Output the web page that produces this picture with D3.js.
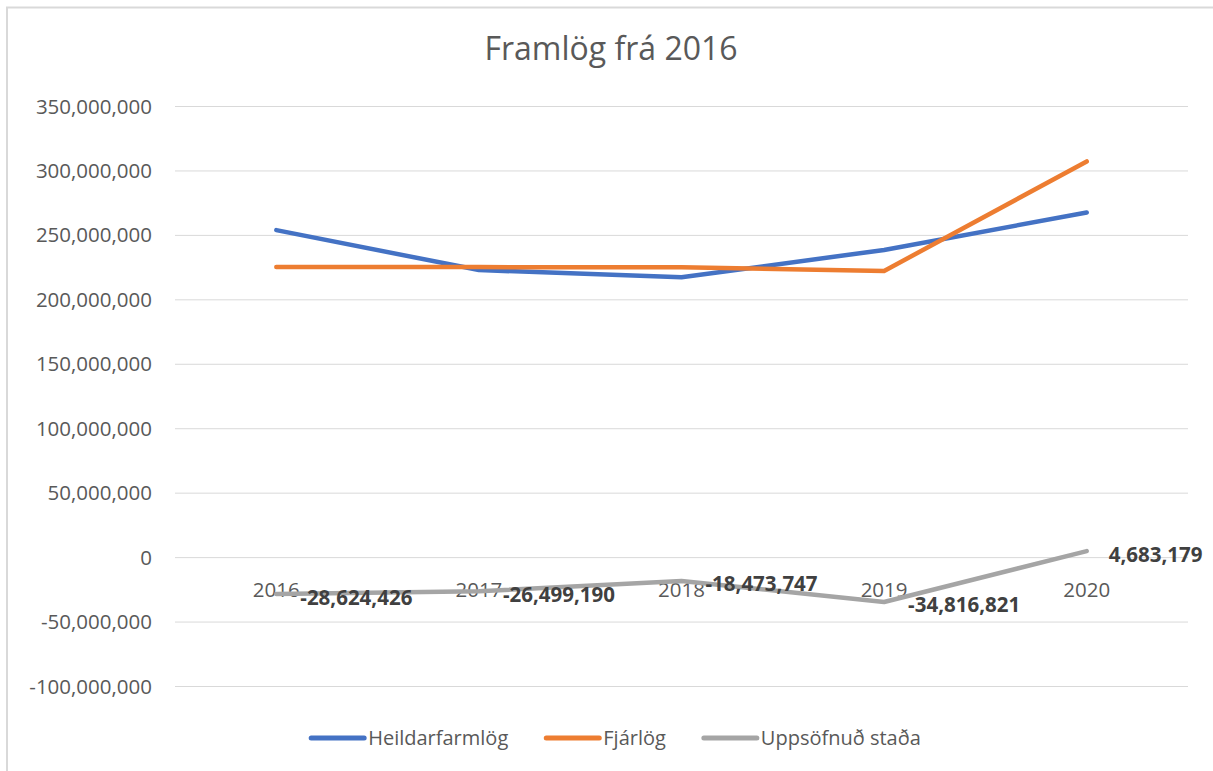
<!DOCTYPE html>
<html>
<head>
<meta charset="utf-8">
<script src="https://cdn.jsdelivr.net/npm/d3@7"></script>
<style>
  body { margin: 0; background: #fff; }
  svg { display: block; font-family: "Open Sans", sans-serif; }
</style>
</head>
<body>
<svg id="chart" width="1213" height="771"></svg>
<script>
// chart data
var years = ["2016", "2017", "2018", "2019", "2020"];
var heildar = [253700000, 222700000, 217100000, 238300000, 267400000];
var fjarlog = [225000000, 225000000, 224800000, 222000000, 307000000];
var uppsofnud = [-28624426, -26499190, -18473747, -34816821, 4683179];
var seriesNames = ["Heildarfarmlög", "Fjárlög", "Uppsöfnuð staða"];
var yTicks = [-100000000, -50000000, 0, 50000000, 100000000, 150000000, 200000000, 250000000, 300000000, 350000000];

var colors = ["#4472C4", "#ED7D31", "#A5A5A5"];
var allSeries = [heildar, fjarlog, uppsofnud];

var svg = d3.select("#chart");
var plotLeft = 175, plotRight = 1188, plotTop = 106, plotBottom = 686;

// outer border (only top/left visible)
svg.append("path")
	.attr("d", "M7,771 V7.5 H1213")
	.attr("fill", "none")
	.attr("stroke", "#d9d9d9")
	.attr("stroke-width", 2);

var x = d3.scalePoint().domain(years).range([plotLeft, plotRight]).padding(0.5);
var y = d3.scaleLinear().domain([-100000000, 350000000]).range([plotBottom, plotTop]);
var comma = d3.format(",");
// excel writes a plain hyphen for negatives
var fmt = function (v) { return comma(v).replace("\u2212", "-"); };

// title
svg.append("text")
	.attr("x", 611).attr("y", 60)
	.attr("text-anchor", "middle")
	.attr("font-size", 32)
	.attr("fill", "#595959")
	.text("Framlög frá 2016");

// gridlines
svg.append("g").selectAll("line").data(yTicks).enter().append("line")
	.attr("x1", plotLeft).attr("x2", plotRight)
	.attr("y1", function (d) { return y(d) + 0.5; })
	.attr("y2", function (d) { return y(d) + 0.5; })
	.attr("stroke", "#d9d9d9")
	.attr("stroke-width", 1);

// y labels
svg.append("g").selectAll("text").data(yTicks).enter().append("text")
	.attr("x", 152)
	.attr("y", function (d) { return y(d) + 7.5; })
	.attr("text-anchor", "end")
	.attr("font-size", 20.5)
	.attr("fill", "#595959")
	.text(function (d) { return fmt(d); });

// category labels (next to the zero line)
svg.append("g").selectAll("text").data(years).enter().append("text")
	.attr("x", function (d) { return x(d); })
	.attr("y", y(0) + 40)
	.attr("text-anchor", "middle")
	.attr("font-size", 20.5)
	.attr("fill", "#595959")
	.text(function (d) { return d; });

// lines
var line = d3.line()
	.x(function (d, i) { return x(years[i]); })
	.y(function (d) { return y(d); });

allSeries.forEach(function (s, k) {
	svg.append("path")
		.datum(s)
		.attr("d", line)
		.attr("fill", "none")
		.attr("stroke", colors[k])
		.attr("stroke-width", 4.5)
		.attr("stroke-linecap", "round")
		.attr("stroke-linejoin", "round");
});

// data labels for Uppsöfnuð staða
svg.append("g").selectAll("text").data(uppsofnud).enter().append("text")
	.attr("x", function (d, i) { return x(years[i]) + (d < 0 ? 24 : 22); })
	.attr("y", function (d) { return y(d) + 10.5; })
	.attr("font-size", 20.5)
	.attr("font-weight", "bold")
	.attr("fill", "#404040")
	.text(function (d) { return fmt(d); });

// legend
var leg = svg.append("g");
var lx = 0;
seriesNames.forEach(function (name, k) {
	var g = leg.append("g").attr("transform", "translate(" + lx + ",0)");
	g.append("line")
		.attr("x1", 2).attr("x2", 55)
		.attr("y1", 0).attr("y2", 0)
		.attr("stroke", colors[k])
		.attr("stroke-width", 5)
		.attr("stroke-linecap", "round");
	var t = g.append("text")
		.attr("x", 59).attr("y", 7)
		.attr("font-size", 20)
		.attr("fill", "#595959")
		.text(name);
	lx += 59 + t.node().getComputedTextLength() + 36;
});
var legW = lx - 36;
leg.attr("transform", "translate(" + (615 - legW / 2) + ",738)");
</script>
</body>
</html>
